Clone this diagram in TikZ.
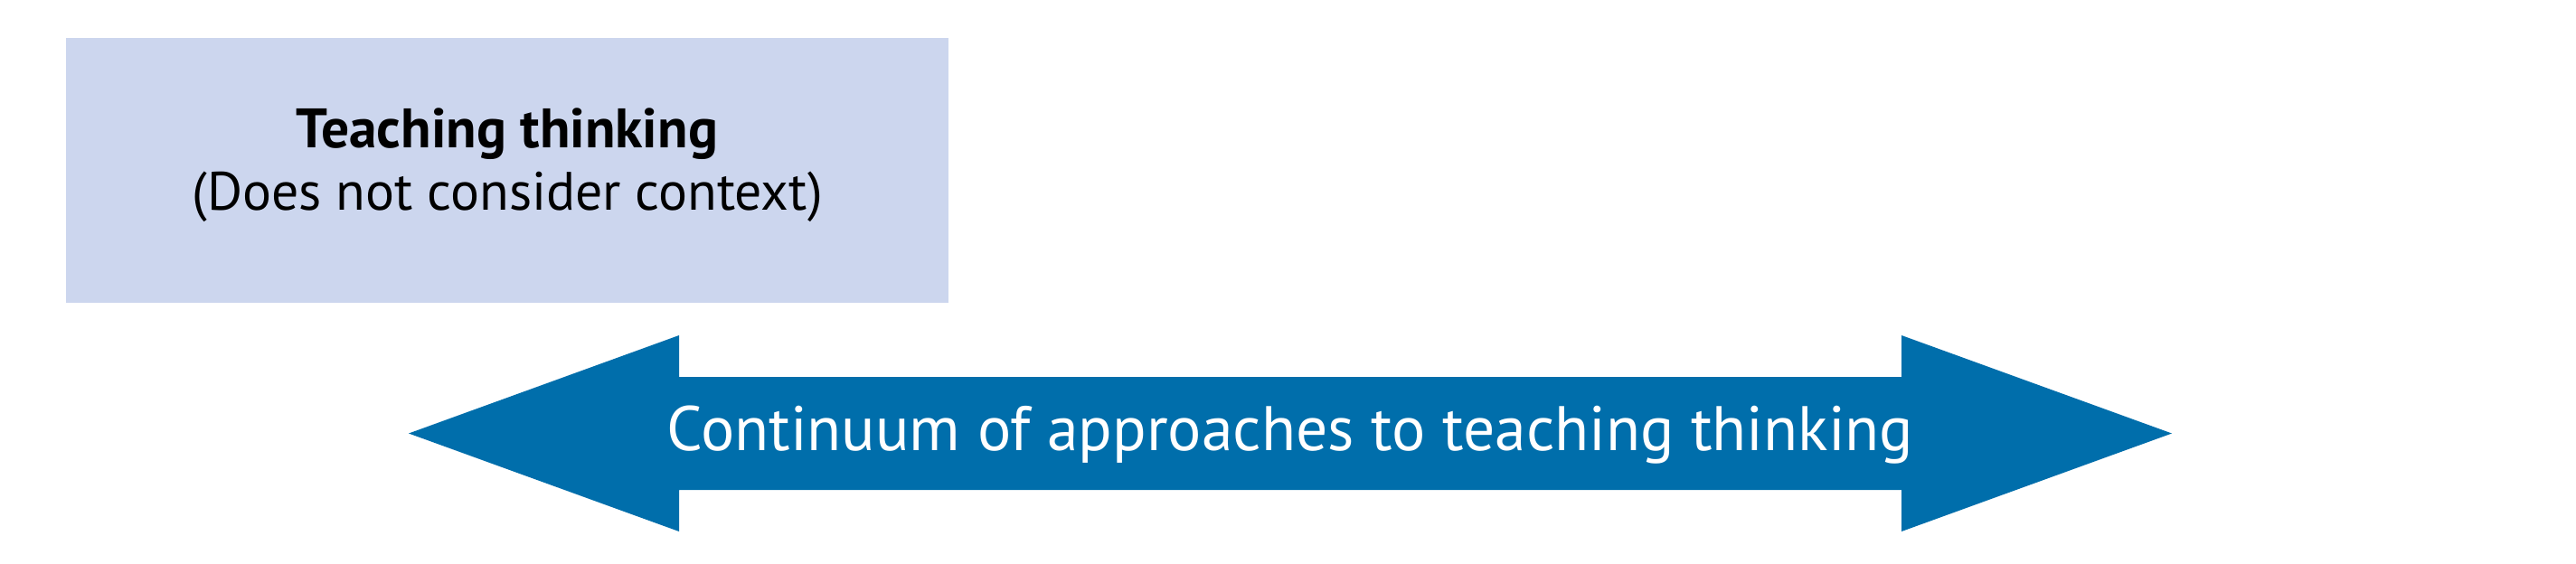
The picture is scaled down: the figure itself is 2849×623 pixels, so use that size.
\documentclass[tikz,border=0pt]{standalone}
\usepackage{fontspec}
\setmainfont{PT Sans}
\definecolor{boxlilac}{RGB}{204,214,238}
\definecolor{arrowblue}{RGB}{0,110,171}
\tikzset{
    ctxbox/.style={fill=boxlilac, draw=none},
    arrowtext/.style={text=white, font=\fontsize{19.8}{23}\selectfont, anchor=base},
    titletext/.style={font=\fontsize{17.5}{21}\selectfont\bfseries, anchor=base},
    subtext/.style={font=\fontsize{17}{20}\selectfont, anchor=base}
}
\begin{document}
\begin{tikzpicture}[x=0.01cm, y=0.01cm]
        \useasboundingbox (0, 0) rectangle (2849, 623);

        \fill[ctxbox] (73, 288) rectangle (1049, 581);
        \node[titletext] (title) at (561, 460) {Teaching thinking};
        \node[subtext] (subtitle) at (561, 391) {(Does not consider context)};

        \fill[arrowblue] (452, 143.5) -- (751, 252) -- (751, 206) -- (2103, 206)
            -- (2103, 252) -- (2402, 143.5) -- (2103, 35) -- (2103, 81)
            -- (751, 81) -- (751, 35) -- cycle;
        \node[arrowtext] (continuum) at (1427, 125) {Continuum of approaches to teaching thinking};

    \end{tikzpicture}
\end{document}
